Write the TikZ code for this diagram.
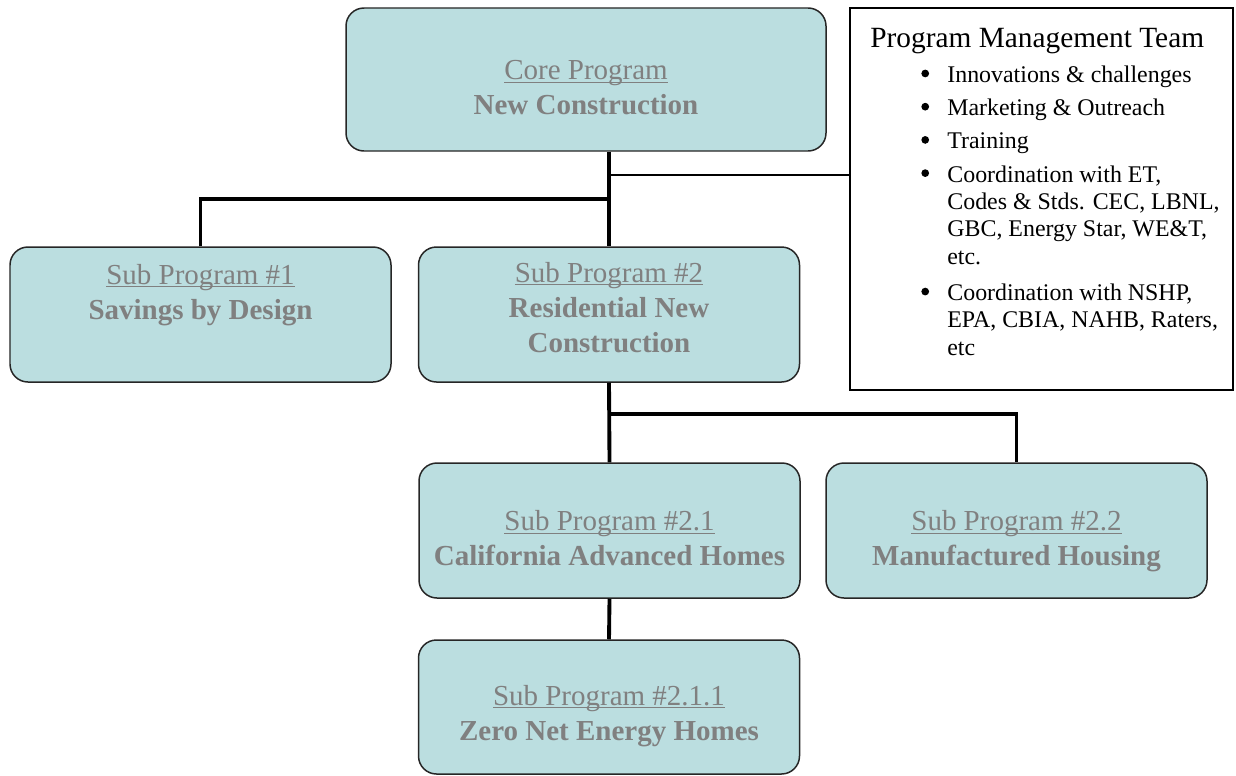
\documentclass[tikz,border=0pt]{standalone}
\usepackage{fontspec}
\setmainfont{Liberation Serif}
\definecolor{boxfill}{RGB}{187,222,224}
\definecolor{txtgray}{RGB}{128,128,128}
\newcommand{\progline}[2][0pt]{\rule{0pt}{#1}\setbox0\hbox{#2}\rlap{\rule[-1.6pt]{\wd0}{0.6pt}}\box0}
\newcommand{\pmtitem}[1]{\makebox[0.52cm][l]{\tikz[baseline=-5.1pt]\fill (0,0) circle (2.2pt);}#1}
\newcommand{\pmtmore}[1]{\hspace*{0.52cm}#1}
\begin{document}
\begin{tikzpicture}[prog/.style = {draw=black!85, line width=0.85pt, fill=boxfill, rounded corners=0.36cm,
                      minimum width=7.62cm, minimum height=2.7cm, align=center, text=txtgray,
                      font=\fontsize{16.5}{19.9}\selectfont},
                    conn/.style = {line width=2.2pt},
                    pmtbox/.style = {draw, line width=0.9pt, minimum width=7.66cm, minimum height=7.64cm}]
                    \useasboundingbox (0,0) rectangle (24.72,-15.5);

                    \node[prog, minimum width=9.6cm, minimum height=2.86cm] (core) at (11.72,-1.59)
                        {\progline[20.5pt]{Core Program}\\ \textbf{New Construction}};
                    \node[prog] (sub1) at (4.01,-6.29) {\progline{Sub Program \#1}\\ \textbf{Savings by Design}\\ \strut};
                    \node[prog] (sub2) at (12.18,-6.29)
                        {\progline{Sub Program \#2}\\ \textbf{Residential New}\\ \textbf{Construction}\rule[-7.9pt]{0pt}{1pt}};
                    \node[prog] (sub21) at (12.19,-10.61) {\progline[20.5pt]{Sub Program \#2.1}\\ \textbf{California Advanced Homes}};
                    \node[prog] (sub22) at (20.33,-10.61) {\progline[24pt]{Sub Program \#2.2}\\ \textbf{Manufactured Housing}};
                    \node[prog, minimum height=2.68cm] (sub211) at (12.18,-14.14)
                        {\progline[21.6pt]{Sub Program \#2.1.1}\\ \textbf{Zero Net Energy Homes}};

                    \node[pmtbox] (pmt) at (20.83,-3.98) {};
                    \node[anchor=base west, inner sep=0pt, font=\fontsize{16.7}{20}\selectfont] (pmttitle) at (17.4,-0.95)
                        {Program Management Team};
                    \node[anchor=north west, inner sep=0pt, align=left, font=\fontsize{13.6}{15.6}\selectfont] (pmtlist) at (18.42,-1.31)
                        {\pmtitem{Innovations \& challenges}\\[3.3pt]
                         \pmtitem{Marketing \& Outreach}\\[3.3pt]
                         \pmtitem{Training}\\[3.3pt]
                         \pmtitem{Coordination with ET,}\\
                         \pmtmore{Codes \& Stds. CEC, LBNL,}\\
                         \pmtmore{GBC, Energy Star, WE\&T,}\\
                         \pmtmore{etc.}\\[5pt]
                         \pmtitem{Coordination with NSHP,}\\
                         \pmtmore{EPA, CBIA, NAHB, Raters,}\\
                         \pmtmore{etc}};

                    \coordinate (j0) at (12.18,-3.5);
                    \coordinate (j1) at (12.18,-3.98);
                    \coordinate (j2) at (12.18,-8.28);

                    \draw[conn] (core.south -| j1) -- (sub2.north);
                    \draw[conn] (sub1.north) |- (j1);
                    \draw[line width=0.8pt] (j0) -- (j0 -| pmt.west);
                    \draw[conn] (sub2.south) -- (sub21.north);
                    \draw[conn] (j2) -| (sub22.north);
                    \draw[conn] (sub21.south) -- (sub211.north);
                \end{tikzpicture}
\end{document}
